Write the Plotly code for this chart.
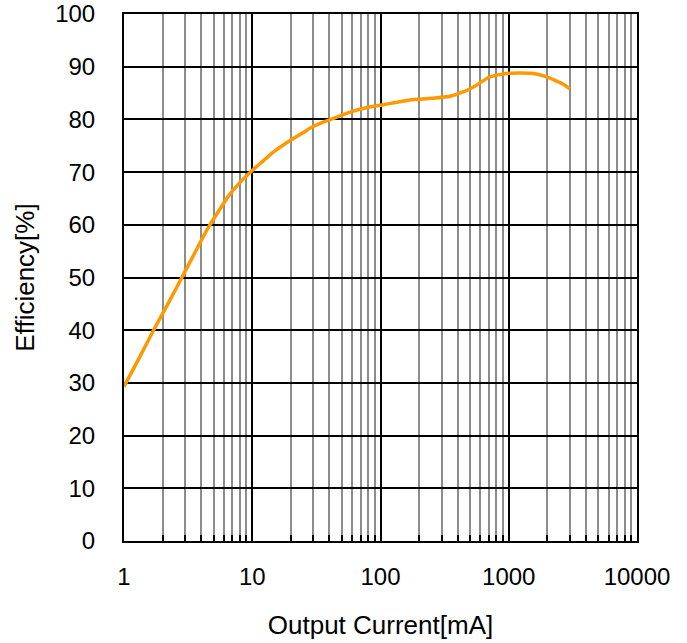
import plotly.graph_objects as go

current_ma = [1, 1.3, 1.7, 2.2, 2.8, 3.5, 4.5, 5.6, 6.5, 8, 10, 12, 14.6, 20, 25, 29, 35, 43, 55, 80,
              100, 130, 170, 250, 350, 450, 560, 700, 850, 1000, 1250, 1500, 1900, 2250, 2600, 3000]
efficiency = [29.3, 34.5, 40.0, 45.0, 49.8, 54.3, 59.3, 63.0, 65.4, 68.0, 70.3, 72.0, 73.8, 76.1,
              77.5, 78.5, 79.4, 80.2, 81.2, 82.3, 82.7, 83.2, 83.7, 84.0, 84.4, 85.3, 86.5, 88.0,
              88.5, 88.75, 88.8, 88.75, 88.2, 87.5, 86.8, 85.8]

x_major = [1, 10, 100, 1000, 10000]
x_labels = ["1", "10", "100", "1000", "10000"]
x_minor = [m * d for d in [1, 10, 100, 1000] for m in range(2, 10)]
y_ticks = list(range(0, 101, 10))

FONT = "Liberation Sans, Arial, sans-serif"

fig = go.Figure()
fig.add_trace(go.Scatter(
    x=current_ma, y=efficiency, mode="lines",
    line=dict(color="#FF9900", width=3.5, shape="spline", smoothing=0.6),
    showlegend=False, hoverinfo="skip"))

fig.update_layout(
    width=687, height=643,
    margin=dict(l=124, r=50, t=14, b=102),
    paper_bgcolor="white", plot_bgcolor="white",
    font=dict(family=FONT, size=24, color="black"),
)

fig.update_xaxes(
    type="log", range=[0, 4], automargin=False,
    tickmode="array", tickvals=x_major, ticktext=x_labels,
    showgrid=True, gridcolor="black", gridwidth=2,
    showline=True, linecolor="black", linewidth=2, mirror=True,
    ticks="", ticklabelstandoff=13, ticklabeloverflow="allow",
    minor=dict(tickmode="array", tickvals=x_minor, showgrid=True,
               gridcolor="#8c8c8c", gridwidth=2,
               ticks="inside", ticklen=6, tickcolor="black", tickwidth=1.5),
    title=dict(text="Output Current[mA]", standoff=27, font=dict(size=26)),
    zeroline=False,
)

fig.update_yaxes(
    range=[0, 100], automargin=False, tickmode="array", tickvals=y_ticks,
    showgrid=True, gridcolor="black", gridwidth=2,
    showline=True, linecolor="black", linewidth=2, mirror=True,
    ticks="", ticklabelstandoff=22, ticklabeloverflow="allow",
    title=dict(text="Efficiency[%]", standoff=13, font=dict(size=26)),
    zeroline=False,
)

fig.write_html("out.html", config={"displayModeBar": False},
               post_script="document.body.style.margin='0';")
